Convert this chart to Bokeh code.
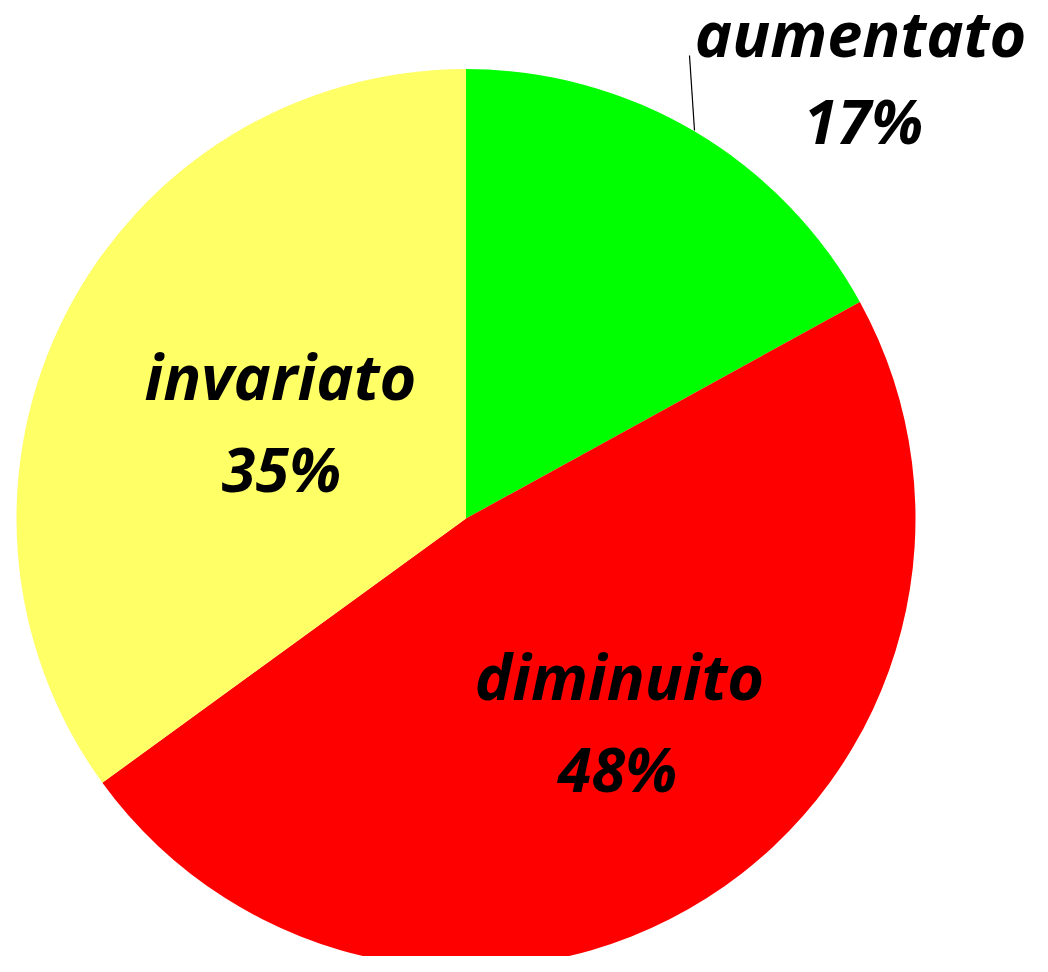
import math
from bokeh.plotting import figure
from bokeh.models import ColumnDataSource
from bokeh.core.properties import value
from bokeh.embed import file_html
from bokeh.resources import INLINE

# ---- data ----
categories = ["aumentato", "diminuito", "invariato"]
percents = [17, 48, 35]
colors = ["#00FF00", "#FF0000", "#FFFF66"]
pct_labels = ["17%", "48%", "35%"]

# ---- layout (reference px -> data coords) ----
W, H = 1032, 956
def dx(px):
    return px
def dy(py):
    return H - py

cx, cy, r = dx(465.5), dy(518), 449.5

p = figure(width=W, height=H, x_range=(0, W), y_range=(0, H),
           output_backend="svg", toolbar_location=None,
           min_border=0, outline_line_color=None, background_fill_color="white")
p.axis.visible = False
p.grid.visible = False

total = float(sum(percents))
starts, ends = [], []
a = math.pi / 2
for v in percents:
    starts.append(a)
    a = a - 2 * math.pi * v / total
    ends.append(a)

src = ColumnDataSource(dict(cat=categories, start=starts, end=ends, color=colors))
p.wedge(x=cx, y=cy, radius=r, radius_units="data", start_angle="start", end_angle="end",
        direction="clock", fill_color="color", line_color=None, source=src)

# leader line for "aumentato"
p.line(x=[dx(689), dx(694)], y=[dy(55), dy(130)], line_color="black", line_width=1.2)

# label anchor positions (reference px; renderer offset compensated)
off = 25
name_pos = [(860, 57 - off), (619, 700 - off), (280, 400 - off)]
pct_pos = [(863, 145 - off), (617, 793 - off), (281, 493 - off)]

font = value("Open Sans")
p.text(x=[dx(x) for x, _ in name_pos], y=[dy(y) for _, y in name_pos], text=categories,
       text_font=font, text_font_style="bold italic", text_font_size="63px",
       text_align="center", text_baseline="alphabetic", text_color="black")
p.text(x=[dx(x) for x, _ in pct_pos], y=[dy(y) for _, y in pct_pos], text=pct_labels,
       text_font=font, text_font_style="bold italic", text_font_size="61px",
       text_align="center", text_baseline="alphabetic", text_color="black")

open("out.html", "w").write(file_html(p, INLINE))
